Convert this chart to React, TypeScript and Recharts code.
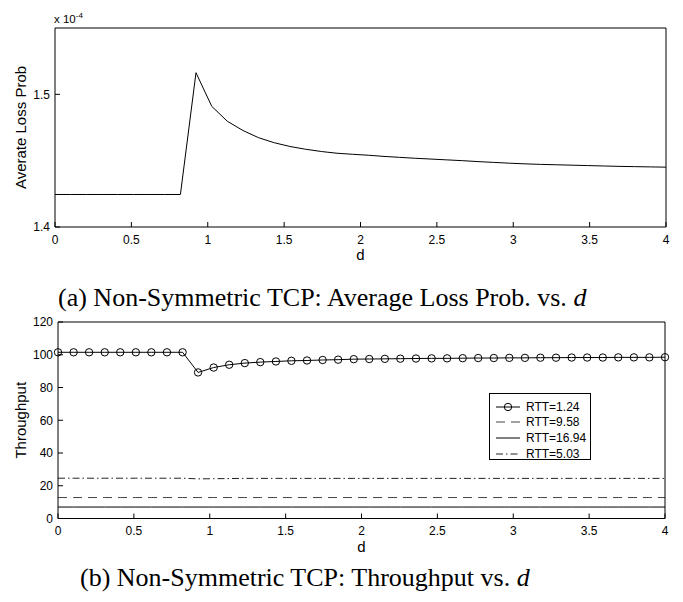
import React from 'react';
import { LineChart, Line, XAxis, YAxis, Legend } from 'recharts';

const SANS = '"Liberation Sans", Arial, Helvetica, sans-serif';
const SERIF = '"Liberation Serif", "Times New Roman", serif';

// d values (40 samples from 0 to 4)
const dValues = [
  0, 0.103, 0.205, 0.308, 0.41, 0.513, 0.615, 0.718, 0.821, 0.923,
  1.026, 1.128, 1.231, 1.333, 1.436, 1.538, 1.641, 1.744, 1.846, 1.949,
  2.051, 2.154, 2.256, 2.359, 2.462, 2.564, 2.667, 2.769, 2.872, 2.974,
  3.077, 3.179, 3.282, 3.385, 3.487, 3.59, 3.692, 3.795, 3.897, 4,
];

// Average loss probability, in units of 1e-4
const lossProb = [
  1.4245, 1.4245, 1.4245, 1.4245, 1.4245, 1.4245, 1.4245, 1.4245, 1.4245, 1.5163,
  1.491, 1.4797, 1.4727, 1.4673, 1.4635, 1.4607, 1.4586, 1.4569, 1.4556, 1.4548,
  1.4541, 1.4532, 1.4525, 1.4518, 1.4512, 1.4506, 1.45, 1.4493, 1.4487, 1.4481,
  1.4476, 1.4472, 1.4469, 1.4466, 1.4463, 1.446, 1.4457, 1.4455, 1.4453, 1.4451,
];

// Throughput series
const rtt124 = [
  101.5, 101.5, 101.5, 101.5, 101.5, 101.5, 101.5, 101.5, 101.5, 89.2,
  92.2, 93.9, 94.9, 95.5, 95.9, 96.3, 96.5, 96.8, 97.0, 97.3,
  97.4, 97.5, 97.6, 97.7, 97.8, 97.8, 97.9, 98.0, 98.0, 98.1,
  98.1, 98.2, 98.2, 98.3, 98.3, 98.3, 98.4, 98.4, 98.4, 98.5,
];
const rtt958 = [
  12.8, 12.8, 12.8, 12.8, 12.8, 12.8, 12.8, 12.8, 12.8, 12.8,
  12.8, 12.8, 12.8, 12.8, 12.8, 12.8, 12.8, 12.8, 12.8, 12.8,
  12.8, 12.8, 12.8, 12.8, 12.8, 12.8, 12.8, 12.8, 12.8, 12.8,
  12.8, 12.8, 12.8, 12.8, 12.8, 12.8, 12.8, 12.8, 12.8, 12.8,
];
const rtt1694 = [
  7.0, 7.0, 7.0, 7.0, 7.0, 7.0, 7.0, 7.0, 7.0, 7.0,
  7.0, 7.0, 7.0, 7.0, 7.0, 7.0, 7.0, 7.0, 7.0, 7.0,
  7.0, 7.0, 7.0, 7.0, 7.0, 7.0, 7.0, 7.0, 7.0, 7.0,
  7.0, 7.0, 7.0, 7.0, 7.0, 7.0, 7.0, 7.0, 7.0, 7.0,
];
const rtt503 = [
  24.6, 24.6, 24.6, 24.6, 24.6, 24.6, 24.6, 24.6, 24.6, 24.2,
  24.3, 24.4, 24.5, 24.5, 24.5, 24.5, 24.5, 24.5, 24.5, 24.5,
  24.5, 24.5, 24.5, 24.5, 24.5, 24.5, 24.5, 24.5, 24.5, 24.5,
  24.5, 24.5, 24.5, 24.5, 24.5, 24.5, 24.5, 24.5, 24.5, 24.5,
];

const seriesNames = ['RTT=1.24', 'RTT=9.58', 'RTT=16.94', 'RTT=5.03'];
const xTicks = [0, 0.5, 1, 1.5, 2, 2.5, 3, 3.5, 4];
const lossTicks = [1.4, 1.5];
const thrTicks = [0, 20, 40, 60, 80, 100, 120];

const lossData = dValues.map((d, i) => ({ d, loss: lossProb[i] }));
const thrData = dValues.map((d, i) => ({
  d,
  a: rtt124[i],
  b: rtt958[i],
  c: rtt1694[i],
  e: rtt503[i],
}));

const seriesStyle = [
  { key: 'a', stroke: '#000', dash: undefined as string | undefined, marker: true },
  { key: 'b', stroke: '#444', dash: '9 6', marker: false },
  { key: 'c', stroke: '#000', dash: undefined, marker: false },
  { key: 'e', stroke: '#222', dash: '7 3 1.5 3', marker: false },
];

const tickStyle = { fill: '#000', fontSize: 12, fontFamily: SANS };

function YTitle(props: any) {
  const vb = props.viewBox || { x: 0, y: 0, width: 0, height: 0 };
  const cx = (vb.x || 0) + props.dxPos;
  const cy = (vb.y || 0) + (vb.height || 0) / 2;
  return (
    <text
      x={cx}
      y={cy}
      transform={`rotate(-90 ${cx} ${cy})`}
      textAnchor="middle"
      dominantBaseline="central"
      fontSize={15}
      fontFamily={SANS}
      fill="#000"
    >
      {props.text}
    </text>
  );
}

function XTitle(props: any) {
  const vb = props.viewBox || { x: 0, y: 0, width: 0, height: 0 };
  const cx = (vb.x || 0) + (vb.width || 0) / 2;
  const y = (vb.y || 0) + 33;
  return (
    <text x={cx} y={y} textAnchor="middle" fontSize={15} fontFamily={SANS} fill="#000">
      {props.text}
    </text>
  );
}

function LegendBox() {
  return (
    <div
      style={{
        border: '1px solid #000',
        background: '#fff',
        width: 102,
        height: 67,
        paddingTop: 5,
        boxSizing: 'border-box',
        fontFamily: SANS,
        fontSize: 12,
        color: '#000',
      }}
    >
      {seriesNames.map((name, i) => {
        const s = seriesStyle[i];
        return (
          <div key={name} style={{ height: 15.6, display: 'flex', alignItems: 'center' }}>
            <svg width={36} height={12} style={{ display: 'block' }}>
              <line x1={6} x2={30} y1={6} y2={6} stroke={s.stroke} strokeWidth={1} strokeDasharray={s.dash} />
              {s.marker ? <circle cx={18} cy={6} r={3.7} fill="none" stroke="#000" strokeWidth={1} /> : null}
            </svg>
            <span style={{ lineHeight: '12px' }}>{name}</span>
          </div>
        );
      })}
    </div>
  );
}

export default function App() {
  return (
    <div style={{ position: 'absolute', left: 0, top: 0, width: 683, height: 602, background: '#fff' }}>
      <div style={{ position: 'absolute', left: 0, top: 0 }}>
        <LineChart width={683} height={270} data={lossData} margin={{ top: 27, right: 16, bottom: 0, left: 0 }}>
          <XAxis
            xAxisId="b"
            dataKey="d"
            type="number"
            domain={[0, 4]}
            ticks={xTicks}
            interval={0}
            height={43}
            tickSize={-5}
            tickMargin={13}
            tick={tickStyle}
            axisLine={{ stroke: '#000' }}
            tickLine={{ stroke: '#000' }}
            label={<XTitle text="d" />}
          />
          <XAxis
            xAxisId="t"
            orientation="top"
            dataKey="d"
            type="number"
            domain={[0, 4]}
            ticks={xTicks}
            interval={0}
            height={1}
            tickSize={-5}
            tick={false}
            axisLine={{ stroke: '#000' }}
            tickLine={{ stroke: '#000' }}
          />
          <YAxis
            yAxisId="l"
            type="number"
            domain={[1.4, 1.55]}
            ticks={lossTicks}
            interval={0}
            width={55}
            tickSize={-5}
            tickMargin={10}
            tick={tickStyle}
            tickFormatter={(v: number) => v.toFixed(1)}
            axisLine={{ stroke: '#000' }}
            tickLine={{ stroke: '#000' }}
            allowDataOverflow
            label={<YTitle text="Averate Loss Prob" dxPos={20} />}
          />
          <YAxis
            yAxisId="r"
            orientation="right"
            type="number"
            domain={[1.4, 1.55]}
            ticks={lossTicks}
            interval={0}
            width={1}
            tickSize={-5}
            tick={false}
            axisLine={{ stroke: '#000' }}
            tickLine={{ stroke: '#000' }}
            allowDataOverflow
          />
          <Line
            xAxisId="b"
            yAxisId="l"
            type="linear"
            dataKey="loss"
            stroke="#000"
            strokeWidth={1}
            dot={false}
            isAnimationActive={false}
          />
        </LineChart>
      </div>

      <div style={{ position: 'absolute', left: 0, top: 300 }}>
        <LineChart width={683} height={262} data={thrData} margin={{ top: 21, right: 17, bottom: 0, left: 0 }}>
          <XAxis
            xAxisId="b"
            dataKey="d"
            type="number"
            domain={[0, 4]}
            ticks={xTicks}
            interval={0}
            height={43.5}
            tickSize={-5}
            tickMargin={13}
            tick={tickStyle}
            axisLine={{ stroke: '#000' }}
            tickLine={{ stroke: '#000' }}
            label={<XTitle text="d" />}
          />
          <XAxis
            xAxisId="t"
            orientation="top"
            dataKey="d"
            type="number"
            domain={[0, 4]}
            ticks={xTicks}
            interval={0}
            height={1}
            tickSize={-5}
            tick={false}
            axisLine={{ stroke: '#000' }}
            tickLine={{ stroke: '#000' }}
          />
          <YAxis
            yAxisId="l"
            type="number"
            domain={[0, 120]}
            ticks={thrTicks}
            interval={0}
            width={58}
            tickSize={-5}
            tickMargin={10}
            tick={tickStyle}
            axisLine={{ stroke: '#000' }}
            tickLine={{ stroke: '#000' }}
            label={<YTitle text="Throughput" dxPos={20} />}
          />
          <YAxis
            yAxisId="r"
            orientation="right"
            type="number"
            domain={[0, 120]}
            ticks={thrTicks}
            interval={0}
            width={1}
            tickSize={-5}
            tick={false}
            axisLine={{ stroke: '#000' }}
            tickLine={{ stroke: '#000' }}
          />
          {seriesStyle.map((s, i) => (
            <Line
              key={s.key}
              xAxisId="b"
              yAxisId="l"
              type="linear"
              dataKey={s.key}
              name={seriesNames[i]}
              stroke={s.stroke}
              strokeWidth={1}
              strokeDasharray={s.dash}
              dot={s.marker ? { r: 3.7, fill: 'none', stroke: '#000', strokeWidth: 1 } : false}
              activeDot={false}
              isAnimationActive={false}
            />
          ))}
          <Legend
            layout="vertical"
            align="center"
            verticalAlign="middle"
            content={() => <LegendBox />}
            wrapperStyle={{ left: 489, top: 93, width: 104, height: 69 }}
          />
        </LineChart>
      </div>

      <svg
        width={683}
        height={602}
        style={{ position: 'absolute', left: 0, top: 0, pointerEvents: 'none' }}
      >
        <text x={54} y={23} fontSize={11.5} fontFamily={SANS} fill="#000">
          x 10
          <tspan fontSize={8} dy={-5}>-4</tspan>
        </text>
        <text x={58} y={306} textAnchor="start" fontSize={26} fontFamily={SERIF} fill="#000">
          (a) Non-Symmetric TCP: Average Loss Prob. vs. <tspan fontStyle="italic">d</tspan>
        </text>
        <text x={80} y={586} textAnchor="start" fontSize={26} fontFamily={SERIF} fill="#000">
          (b) Non-Symmetric TCP: Throughput vs. <tspan fontStyle="italic">d</tspan>
        </text>
      </svg>
    </div>
  );
}
